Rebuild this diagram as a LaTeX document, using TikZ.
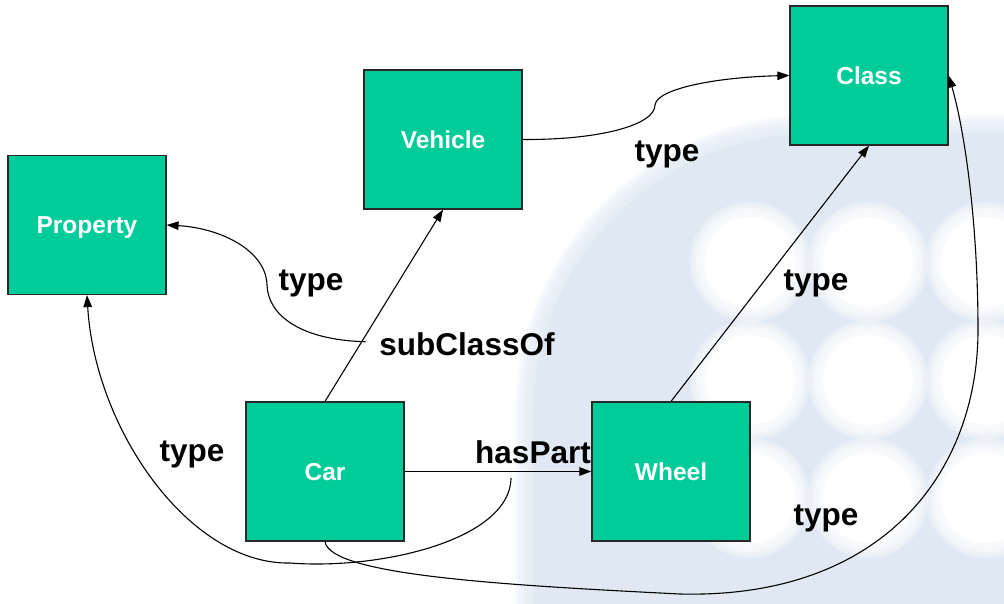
\documentclass[tikz,border=0pt]{standalone}
\usepackage{fontspec}
\setmainfont{Liberation Sans}
\usetikzlibrary{arrows.meta,calc}
\definecolor{boxgreen}{RGB}{0,204,153}
\definecolor{boxline}{RGB}{40,40,40}
\definecolor{wmblue}{RGB}{224,233,243}
\begin{document}
\begin{tikzpicture}[x=1pt,y=-1pt,
  classbox/.style={draw=boxline, line width=1.2pt, fill=boxgreen, minimum width=158pt,
    minimum height=139pt, inner sep=0pt, text=white,
    font=\fontsize{24.5}{26}\selectfont\bfseries, text height=17.5pt, text depth=0pt},
  lbl/.style={font=\fontsize{31.5}{34}\selectfont\bfseries, anchor=base, inner sep=0pt},
  rel/.style={line width=1.1pt, -{Triangle[length=12pt,width=8.5pt]}}]
\useasboundingbox (0,0) rectangle (1004,603);
% watermark (soft edges)
\begin{scope}
  \clip (0,0) rectangle (1004,603);
  \foreach \i in {0,...,5} {
    \pgfmathsetmacro{\ins}{\i*3}
    \pgfmathsetmacro{\rad}{300-\i*3}
    \fill[wmblue, opacity=0.25, rounded corners=\rad pt] (515+\ins,115+\ins) rectangle (1300,1000);
  }
  \fill[wmblue, rounded corners=282pt] (533,133) rectangle (1300,1000);
  \foreach \x in {750,868,986} {
    \foreach \y in {262,380,498} {
      \foreach \r in {60,57,54,51,48} {
        \fill[white, opacity=0.3] (\x,\y) circle (\r pt);
      }
      \fill[white] (\x,\y) circle (45pt);
    }
  }
\end{scope}
% nodes
\node[classbox] (property) at (87,225) {Property};
\node[classbox] (vehicle) at (443,139.5) {Vehicle};
\node[classbox] (class) at (869,75.5) {Class};
\node[classbox] (car) at (325,471.5) {Car};
\node[classbox] (wheel) at (671,471.5) {Wheel};
% edges
\draw[rel] (car.north) -- coordinate[pos=0.311] (sc) (vehicle.south);
\draw[rel] (car.east) -- coordinate[pos=0.57] (hp) (wheel.west);
\draw[rel] (wheel.north) -- (class.south);
\draw[rel] (vehicle.east) .. controls (600,140) and (655,125) .. (655,105)
  .. controls (657,88) and (720,77) .. (class.west);
\draw[rel] ($(sc)+(4,0)$) .. controls (300,340) and (268,315) .. (267,285)
  .. controls (266,250) and (220,228) .. (property.east);
\draw[rel] ($(hp)+(0,6.5)$) .. controls (510,540) and (380,570) .. (290,563)
  .. controls (190,565) and (95,430) .. (property.south);
\draw[rel] (car.south) .. controls (330,575) and (500,585) .. (680,594)
  .. controls (885,599) and (978,470) .. (978,330)
  .. controls (978,220) and (964,128) .. (class.east);
% labels
\node[lbl] (t1) at (667,161) {type};
\node[lbl] (t2) at (311,290) {type};
\node[lbl] (sub) at (467,355) {subClassOf};
\node[lbl] (has) at (533,463) {hasPart};
\node[lbl] (t3) at (192,461) {type};
\node[lbl] (t4) at (816,290) {type};
\node[lbl] (t5) at (826,525) {type};
\end{tikzpicture}
\end{document}
